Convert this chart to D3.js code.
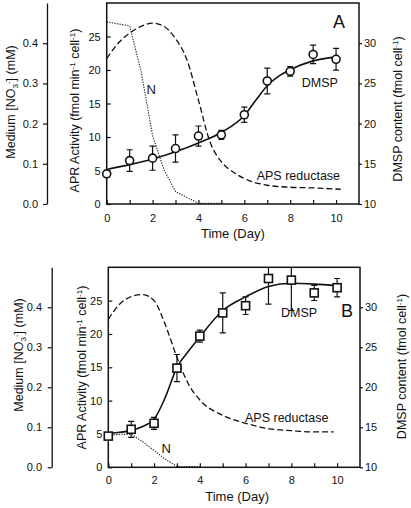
<!DOCTYPE html>
<html><head><meta charset="utf-8">
<script src="https://cdn.jsdelivr.net/npm/d3@7"></script>
<style>body{margin:0;background:#fff}svg{display:block}text{font-family:"Liberation Sans",Arial,sans-serif;fill:#111;font-weight:400}</style>
</head><body>
<svg id="c" width="411" height="508"></svg>
<script>
// ---------- data ----------
const days = [0,1,2,3,4,5,6,7,8,9,10];
// Panel A (circles)
const dmspA    = [13.75,15.4,15.7,16.9,18.45,18.6,21.1,25.3,26.5,28.6,28.0];
const dmspAErr = [0.3,1.35,1.5,1.7,1.25,0.55,0.95,1.6,0.6,1.15,1.35];
const fitAx = [0,1,2,3,4,5,6,6.5,7,7.5,8,9,10];
const fitAy = [14.3,14.9,15.6,16.5,17.6,18.9,21.0,22.9,24.7,25.9,26.7,27.8,28.3];
const apsAx = [0,0.5,1,1.5,2,2.5,3,3.5,4,4.5,5,5.5,6,7,8,9,10.2];
const apsAy = [21.7,24.0,25.5,26.5,27.0,26.5,24.7,21.5,15.5,9.3,6.3,4.8,3.8,2.8,2.5,2.4,2.2];
const nAx = [0,1,1.5,2,2.5,3,4,5];
const nAy = [0.453,0.443,0.33,0.17,0.085,0.031,0.002,0.002];
// Panel B (squares)
const dmspB    = [13.9,14.75,15.5,22.4,26.4,29.3,30.2,33.6,33.4,31.8,32.45];
const dmspBErr = [0.3,1.0,0.75,1.7,0.75,2.5,1.1,3.2,3.8,0.95,1.15];
const fitBx = [0,1,1.5,2,2.5,3,3.5,4,5,6,7,8,9,10];
const fitBy = [14.25,14.6,15.1,16.0,18.8,22.5,24.5,26.3,29.6,31.3,32.6,33.0,32.9,32.7];
const apsBx = [0,0.5,1,1.5,2,2.5,3,3.5,4,5,6,7,8,9,9.85];
const apsBy = [22.2,24.5,25.6,25.9,25.0,21.3,16.5,12.5,10.1,7.8,6.6,5.8,5.5,5.3,5.3];
const nBx = [0,1,1.5,2,2.5,3,4];
const nBy = [0.081,0.083,0.064,0.042,0.02,0.002,0.002];
// ticks
const xTicks = [0,1,2,3,4,5,6,7,8,9,10];
const aprTicks = [0,5,10,15,20,25];
const dmspTicks = [10,15,20,25,30];
const nTicks = [0,0.1,0.2,0.3,0.4];

// ---------- layout ----------
const panels = [
  {id:"A", x0:106.7, x1:359, yT:3, yB:204, nX:47, marker:"circle",
   dm:dmspA, err:dmspAErr, fx:fitAx, fy:fitAy, ax:apsAx, ay:apsAy, nx:nAx, ny:nAy,
   xPad:10, timeY:237.7, medX:15, medY:102, aprX:79, aprY:110.5, dmX:401.7, dmY:109, nPad:5,
   letter:[339,27.5], dmspLab:[301.7,87.3], apsLab:[256.7,180], nLab:[151.3,94.3]},
  {id:"B", x0:108.3, x1:360, yT:267.3, yB:467.3, nX:51.7, marker:"square",
   dm:dmspB, err:dmspBErr, fx:fitBx, fy:fitBy, ax:apsBx, ay:apsBy, nx:nBx, ny:nBy,
   xPad:9, timeY:501, medX:23.3, medY:355, aprX:86, aprY:367.5, dmX:406, dmY:366.5, nPad:5.7,
   letter:[347,316.5], dmspLab:[281,316.7], apsLab:[245,421.5], nLab:[166.3,453.3]}
];

const svg = d3.select("#c");

function rotTitle(g, x, y, parts, size){
  const t = g.append("text").attr("transform",`translate(${x},${y}) rotate(-90)`)
    .attr("text-anchor","middle").style("font-size",size+"px");
  parts.forEach(p=>{
    const ts = t.append("tspan").text(p.t);
    if(p.sup){ts.attr("dy",-4).style("font-size",(size*0.65)+"px");}
    else if(p.sub){ts.attr("dy",3).style("font-size",(size*0.65)+"px");}
    if(p.back!==undefined) ts.attr("dy",p.back);
  });
  return t;
}

function styleAxis(sel){
  sel.selectAll(".tick line").attr("stroke","#111").attr("stroke-width",1.2);
  sel.selectAll("text").style("font-size","11px").attr("fill","#222")
    .style("font-family","Liberation Sans, Arial").style("font-weight","400");
}

panels.forEach((P,i)=>{
  const g = svg.append("g");
  const x = d3.scaleLinear([0,11],[P.x0,P.x1]);
  const yA = d3.scaleLinear([0,30],[P.yB,P.yT]);
  const yD = d3.scaleLinear([10,35],[P.yB,P.yT]);
  const yN = d3.scaleLinear([0,0.5],[P.yB,P.yT]);

  const cid = "clip"+P.id;
  svg.append("clipPath").attr("id",cid).append("rect")
    .attr("x",P.x0).attr("y",P.yT).attr("width",P.x1-P.x0).attr("height",P.yB-P.yT);

  // nitrate axis
  const gn = g.append("g").attr("transform",`translate(${P.nX},0)`)
    .call(d3.axisLeft(yN).tickValues(nTicks).tickFormat(d3.format(".1f")).tickSize(4).tickSizeOuter(0).tickPadding(P.nPad));
  gn.select(".domain").attr("stroke","#111").attr("stroke-width",1.3);
  styleAxis(gn);

  // x axis
  const gx = g.append("g").attr("transform",`translate(0,${P.yB})`)
    .call(d3.axisBottom(x).tickValues(xTicks).tickFormat(d=>d%2===0?d:"").tickSizeInner(-4).tickSizeOuter(0).tickPadding(P.xPad));
  gx.select(".domain").remove();
  styleAxis(gx);

  // left APR axis
  const gl = g.append("g").attr("transform",`translate(${P.x0},0)`)
    .call(d3.axisLeft(yA).tickValues(aprTicks).tickSizeInner(-4).tickSizeOuter(0).tickPadding(6));
  gl.select(".domain").remove();
  styleAxis(gl);

  // right DMSP axis
  const gr = g.append("g").attr("transform",`translate(${P.x1},0)`)
    .call(d3.axisRight(yD).tickValues(dmspTicks).tickSize(3).tickSizeOuter(0).tickPadding(2));
  gr.select(".domain").remove();
  styleAxis(gr);

  const plot = g.append("g").attr("clip-path",`url(#${cid})`);

  // N dotted
  plot.append("path").datum(P.nx.map((d,k)=>[d,P.ny[k]]))
    .attr("d",d3.line().x(d=>x(d[0])).y(d=>yN(d[1])).curve(d3.curveLinear))
    .attr("fill","none").attr("stroke","#222").attr("stroke-width",1.1).attr("stroke-dasharray","1.3,1.3");
  // APS dashed
  plot.append("path").datum(P.ax.map((d,k)=>[d,P.ay[k]]))
    .attr("d",d3.line().x(d=>x(d[0])).y(d=>yA(d[1])).curve(d3.curveMonotoneX))
    .attr("fill","none").attr("stroke","#111").attr("stroke-width",1.3).attr("stroke-dasharray","6,3");
  // DMSP fit
  plot.append("path").datum(P.fx.map((d,k)=>[d,P.fy[k]]))
    .attr("d",d3.line().x(d=>x(d[0])).y(d=>yD(d[1])).curve(d3.curveMonotoneX))
    .attr("fill","none").attr("stroke","#111").attr("stroke-width",1.6);

  // error bars
  const eb = plot.selectAll(".eb").data(days).join("g");
  eb.append("line").attr("x1",d=>x(d)).attr("x2",d=>x(d))
    .attr("y1",(d,k)=>yD(P.dm[k]+P.err[k])).attr("y2",(d,k)=>yD(P.dm[k]-P.err[k]))
    .attr("stroke","#111").attr("stroke-width",1.2);
  [1,-1].forEach(s=>{
    eb.append("line").attr("x1",d=>x(d)-3).attr("x2",d=>x(d)+3)
      .attr("y1",(d,k)=>yD(P.dm[k]+s*P.err[k])).attr("y2",(d,k)=>yD(P.dm[k]+s*P.err[k]))
      .attr("stroke","#111").attr("stroke-width",1.2);
  });

  // frame
  g.append("rect").attr("x",P.x0).attr("y",P.yT).attr("width",P.x1-P.x0).attr("height",P.yB-P.yT)
    .attr("fill","none").attr("stroke","#111").attr("stroke-width",1.5);

  // markers
  if(P.marker==="circle"){
    g.selectAll(".mk").data(days).join("circle")
      .attr("cx",d=>x(d)).attr("cy",(d,k)=>yD(P.dm[k])).attr("r",4)
      .attr("fill","#fff").attr("stroke","#111").attr("stroke-width",1.6);
  } else {
    g.selectAll(".mk").data(days).join("rect")
      .attr("x",d=>x(d)-4).attr("y",(d,k)=>yD(P.dm[k])-4).attr("width",8).attr("height",8)
      .attr("fill","#fff").attr("stroke","#111").attr("stroke-width",1.6);
  }

  // labels
  g.append("text").attr("x",P.letter[0]).attr("y",P.letter[1]).attr("text-anchor","middle")
    .style("font-size","18px").text(P.id);
  g.append("text").attr("x",P.dmspLab[0]).attr("y",P.dmspLab[1]).style("font-size","12.5px").text("DMSP");
  g.append("text").attr("x",P.apsLab[0]).attr("y",P.apsLab[1]).style("font-size","12.5px").text("APS reductase");
  g.append("text").attr("x",P.nLab[0]).attr("y",P.nLab[1]).attr("text-anchor","middle").style("font-size","13px").text("N");

  g.append("text").attr("x",(P.x0+P.x1)/2 + (i?3:0)).attr("y",P.timeY).attr("text-anchor","middle")
    .style("font-size","13px").text("Time (Day)");

  rotTitle(g,P.medX,P.medY,[{t:"Medium [NO"},{t:"3",sub:true},{t:"-",sup:true,back:-7},{t:"] (mM)",back:4}],12.5);
  rotTitle(g,P.aprX,P.aprY,[{t:"APR Activity (fmol min"},{t:"-1",sup:true},{t:" cell",back:4},{t:"-1",sup:true},{t:")",back:4}],12.5);
  rotTitle(g,P.dmX,P.dmY,[{t:"DMSP content (fmol cell"},{t:"-1",sup:true},{t:")",back:4}],12.5);
});
</script>
</body></html>
